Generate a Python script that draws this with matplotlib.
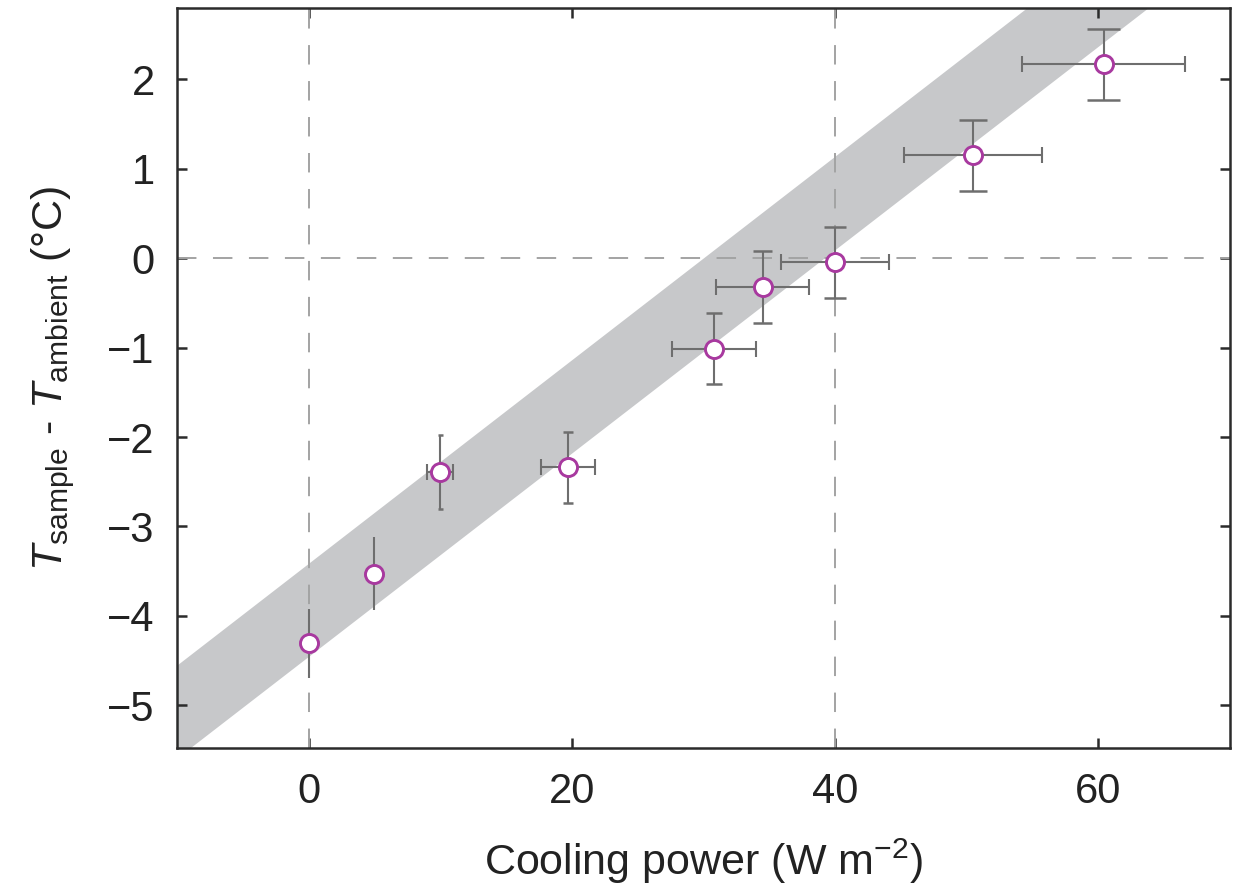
import numpy as np
import matplotlib
matplotlib.use('Agg')
import matplotlib.pyplot as plt

#---------------------- DATA
power     = [0.0, 5.0, 10.0, 19.7, 30.8, 34.5, 40.0, 50.5, 60.4]      # W m-2
power_err = [0.0, 0.0, 1.0, 2.05, 3.2, 3.55, 4.1, 5.25, 6.2]
dtemp     = [-4.31, -3.53, -2.39, -2.34, -1.01, -0.32, -0.045, 1.15, 2.17]  # degC
dtemp_err = [0.39, 0.41, 0.41, 0.40, 0.40, 0.40, 0.40, 0.40, 0.40]

# grey band (model range), edges at x = -10 and 70
band_x     = [-10.0, 70.0]
band_upper = [-4.56, 4.55]
band_lower = [-5.60, 3.50]

xticks = [0, 20, 40, 60]
yticks = [-5, -4, -3, -2, -1, 0, 1, 2]

#---------------------- STYLE
plt.rcParams['font.family'] = ['Liberation Sans', 'DejaVu Sans']
plt.rcParams['mathtext.fontset'] = 'custom'
plt.rcParams['mathtext.rm'] = 'Liberation Sans'
plt.rcParams['mathtext.it'] = 'Liberation Sans:italic'
plt.rcParams['axes.unicode_minus'] = True

ecol = '#6e6e6e'
mcol = '#a8399f'
dcol = '#a3a3a3'
tcol = '#222222'

fig = plt.figure(figsize=(12.38, 8.86), dpi=100)
ax = fig.add_axes([0.1430, 0.1557, 0.8505, 0.8353])

ax.fill_between(band_x, band_lower, band_upper, color='#c7c8ca', lw=0, zorder=1)

ax.axhline(0, color=dcol, lw=1.4, ls=(0, (10, 8.5)), zorder=2)
ax.axvline(0, color=dcol, lw=1.4, ls=(0, (10, 8.5)), zorder=2)
ax.axvline(40, color=dcol, lw=1.4, ls=(0, (10, 8.5)), zorder=2)

# horizontal bars with short caps
ax.errorbar(power, dtemp, xerr=power_err, fmt='none', ecolor=ecol, elinewidth=1.5,
            capsize=5.5, capthick=1.5, zorder=3)
# vertical bars, caps scale with the horizontal error
ax.errorbar(power, dtemp, yerr=dtemp_err, fmt='none', ecolor=ecol, elinewidth=1.5,
            capsize=0, zorder=3)
p = np.array(power); pe = np.array(power_err)
t = np.array(dtemp); te = np.array(dtemp_err)
cw = 0.2*pe
for s in (1, -1):
    ax.hlines(t + s*te, p - cw, p + cw, color=ecol, lw=1.8, zorder=3)

ax.plot(power, dtemp, 'o', ms=13, mfc='white', mec=mcol, mew=2.1, zorder=4)

ax.set_xlim(-10, 70)
ax.set_ylim(-5.48, 2.8)
ax.set_xticks(xticks)
ax.set_yticks(yticks)

for sp in ax.spines.values():
    sp.set_linewidth(1.8)
    sp.set_color('#2b2b2b')
ax.tick_params(direction='in', length=7, width=1.8, color='#2b2b2b',
               top=True, right=True, labelsize=30, labelcolor=tcol)
ax.tick_params(axis='x', pad=17)
ax.tick_params(axis='y', pad=16)

ax.set_xlabel('Cooling power (W m$^{-2}$)', fontsize=31, color=tcol, labelpad=18)
ax.set_ylabel(r'$T_{\mathrm{sample}}$ - $T_{\mathrm{ambient}}$ (°C)', fontsize=31,
              color=tcol, labelpad=22)

plt.savefig('out.png', dpi=100)
